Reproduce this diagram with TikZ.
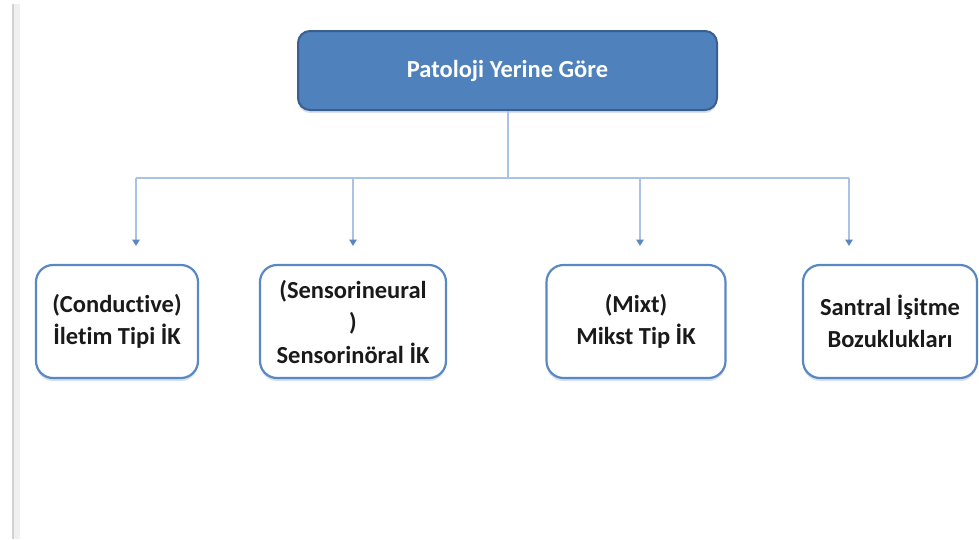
\documentclass[tikz,border=0pt]{standalone}
\usepackage{fontspec}
\setmainfont{Carlito}[Ligatures={NoCommon,NoRare,NoDiscretionary}]
\usetikzlibrary{arrows.meta,shadows}
\definecolor{topfill}{HTML}{4F81BD}
\definecolor{topdraw}{HTML}{3A5F8E}
\definecolor{boxdraw}{HTML}{5A88C2}
\definecolor{linec}{HTML}{A9C2E6}
\definecolor{arrc}{HTML}{5B87C0}
\definecolor{shadowc}{HTML}{D5E0F2}
\definecolor{txt}{HTML}{1A1A1A}
\begin{document}
\begin{tikzpicture}[x=1pt,y=-1pt,
  topbox/.style={draw=topdraw,line width=2pt,fill=topfill,rounded corners=12pt,
    minimum width=419pt,minimum height=79pt,inner sep=0pt,
    font=\fontsize{24.5}{32}\selectfont\bfseries,text=white,
    drop shadow={shadow xshift=0pt,shadow yshift=-3pt,fill=shadowc,opacity=1}},
  childbox/.style={draw=boxdraw,line width=2.2pt,fill=white,rounded corners=17pt,
    minimum height=113pt,inner sep=0pt,align=center,
    font=\fontsize{24.5}{32.5}\selectfont\bfseries,text=txt,
    drop shadow={shadow xshift=0pt,shadow yshift=-3pt,fill=shadowc,opacity=1}},
  conn/.style={draw=linec,line width=1.8pt},
  arr/.style={draw=linec,line width=1.8pt,-{Triangle[width=7.5pt,length=6.5pt,color=arrc]}}]
\useasboundingbox (0,0) rectangle (979,539);
% left gray rule
\fill[gray!12] (12,4) rectangle (20,539);
\draw[gray!35,line width=1.2pt] (13,4) -- (13,539);
% nodes
\node[topbox] (top) at (507.5,70.5) {Patoloji Yerine Göre};
\node[childbox,minimum width=162pt] (c1) at (117,321.5) {(Conductive)\\İletim Tipi İK};
\node[childbox,minimum width=186pt] (c2) at (353,321.5) {(Sensorineural\\)\\Sensorinöral İK};
\node[childbox,minimum width=179pt] (c3) at (636,321.5) {(Mixt)\\Mikst Tip İK};
\node[childbox,minimum width=174pt] (c4) at (890,321.5) {Santral İşitme\\Bozuklukları};
% connector coordinates
\coordinate (j) at (508,178);
\coordinate (h1) at (136,178);
\coordinate (h2) at (353,178);
\coordinate (h3) at (640,178);
\coordinate (h4) at (849,178);
\coordinate (e1) at (136,246);
\coordinate (e2) at (353,246);
\coordinate (e3) at (640,246);
\coordinate (e4) at (849,246);
\draw[conn] (top.south -| j) -- (j);
\draw[conn] (h1) -- (h4);
\draw[arr] (h1) -- (e1);
\draw[arr] (h2) -- (e2);
\draw[arr] (h3) -- (e3);
\draw[arr] (h4) -- (e4);
\end{tikzpicture}
\end{document}
